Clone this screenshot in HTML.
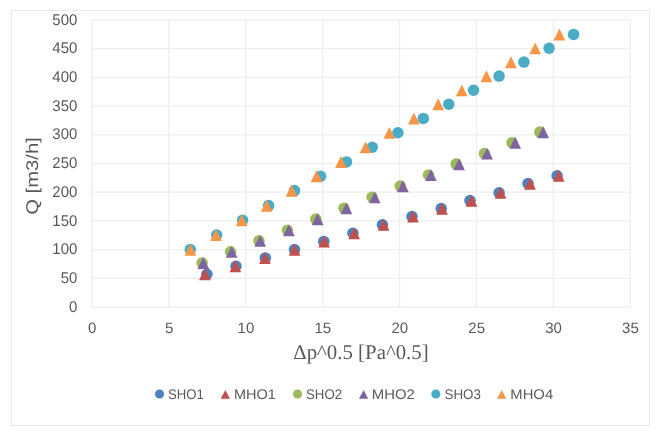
<!DOCTYPE html>
<html><head><meta charset="utf-8"><style>
html,body{margin:0;padding:0;background:#fff;}
body{width:660px;height:435px;overflow:hidden;}
svg{display:block;will-change:transform;text-rendering:geometricPrecision;}
.t{font-family:"Liberation Sans",sans-serif;font-size:15.5px;fill:#595959;}
.t2{font-family:"Liberation Sans",sans-serif;font-size:15px;fill:#595959;}
.lg{font-family:"Liberation Sans",sans-serif;font-size:14px;fill:#595959;}
.xt{font-family:"Liberation Serif",serif;font-size:21px;fill:#595959;}
.yt{font-family:"Liberation Sans",sans-serif;font-size:17px;fill:#595959;}
</style></head><body>
<svg width="660" height="435" viewBox="0 0 660 435">
<rect x="11.5" y="10.5" width="638" height="415" fill="#fff" stroke="#E8E8E8" stroke-width="1"/>
<line x1="91.30" y1="307.10" x2="630.90" y2="307.10" stroke="#EEEEEE" stroke-width="1.3"/>
<line x1="91.30" y1="278.38" x2="630.90" y2="278.38" stroke="#EEEEEE" stroke-width="1.3"/>
<line x1="91.30" y1="249.66" x2="630.90" y2="249.66" stroke="#EEEEEE" stroke-width="1.3"/>
<line x1="91.30" y1="220.94" x2="630.90" y2="220.94" stroke="#EEEEEE" stroke-width="1.3"/>
<line x1="91.30" y1="192.22" x2="630.90" y2="192.22" stroke="#EEEEEE" stroke-width="1.3"/>
<line x1="91.30" y1="163.50" x2="630.90" y2="163.50" stroke="#EEEEEE" stroke-width="1.3"/>
<line x1="91.30" y1="134.78" x2="630.90" y2="134.78" stroke="#EEEEEE" stroke-width="1.3"/>
<line x1="91.30" y1="106.06" x2="630.90" y2="106.06" stroke="#EEEEEE" stroke-width="1.3"/>
<line x1="91.30" y1="77.34" x2="630.90" y2="77.34" stroke="#EEEEEE" stroke-width="1.3"/>
<line x1="91.30" y1="48.62" x2="630.90" y2="48.62" stroke="#EEEEEE" stroke-width="1.3"/>
<line x1="91.30" y1="19.90" x2="630.90" y2="19.90" stroke="#EEEEEE" stroke-width="1.3"/>
<line x1="91.95" y1="19.25" x2="91.95" y2="307.75" stroke="#EEEEEE" stroke-width="1.3"/>
<line x1="168.85" y1="19.25" x2="168.85" y2="307.75" stroke="#EEEEEE" stroke-width="1.3"/>
<line x1="245.75" y1="19.25" x2="245.75" y2="307.75" stroke="#EEEEEE" stroke-width="1.3"/>
<line x1="322.65" y1="19.25" x2="322.65" y2="307.75" stroke="#EEEEEE" stroke-width="1.3"/>
<line x1="399.55" y1="19.25" x2="399.55" y2="307.75" stroke="#EEEEEE" stroke-width="1.3"/>
<line x1="476.45" y1="19.25" x2="476.45" y2="307.75" stroke="#EEEEEE" stroke-width="1.3"/>
<line x1="553.35" y1="19.25" x2="553.35" y2="307.75" stroke="#EEEEEE" stroke-width="1.3"/>
<line x1="630.25" y1="19.25" x2="630.25" y2="307.75" stroke="#EEEEEE" stroke-width="1.3"/>
<text transform="translate(77.3 311.80) scale(0.965 1)" text-anchor="end" class="t">0</text>
<text transform="translate(77.3 283.08) scale(0.965 1)" text-anchor="end" class="t">50</text>
<text transform="translate(77.3 254.36) scale(0.965 1)" text-anchor="end" class="t">100</text>
<text transform="translate(77.3 225.64) scale(0.965 1)" text-anchor="end" class="t">150</text>
<text transform="translate(77.3 196.92) scale(0.965 1)" text-anchor="end" class="t">200</text>
<text transform="translate(77.3 168.20) scale(0.965 1)" text-anchor="end" class="t">250</text>
<text transform="translate(77.3 139.48) scale(0.965 1)" text-anchor="end" class="t">300</text>
<text transform="translate(77.3 110.76) scale(0.965 1)" text-anchor="end" class="t">350</text>
<text transform="translate(77.3 82.04) scale(0.965 1)" text-anchor="end" class="t">400</text>
<text transform="translate(77.3 53.32) scale(0.965 1)" text-anchor="end" class="t">450</text>
<text transform="translate(77.3 24.60) scale(0.965 1)" text-anchor="end" class="t">500</text>
<text transform="translate(92.15 333.3) scale(1 1)" text-anchor="middle" class="t2">0</text>
<text transform="translate(169.05 333.3) scale(1 1)" text-anchor="middle" class="t2">5</text>
<text transform="translate(245.95 333.3) scale(1 1)" text-anchor="middle" class="t2">10</text>
<text transform="translate(322.85 333.3) scale(1 1)" text-anchor="middle" class="t2">15</text>
<text transform="translate(399.75 333.3) scale(1 1)" text-anchor="middle" class="t2">20</text>
<text transform="translate(476.65 333.3) scale(1 1)" text-anchor="middle" class="t2">25</text>
<text transform="translate(553.55 333.3) scale(1 1)" text-anchor="middle" class="t2">30</text>
<text transform="translate(630.45 333.3) scale(1 1)" text-anchor="middle" class="t2">35</text>
<text transform="translate(293.26 359.3) scale(0.9922 1)" class="xt">&#916;p^0.5 [Pa^0.5]</text>
<text transform="translate(37.85 214.69) rotate(-90) scale(1.1874 1)" class="yt">Q [m3/h]</text>
<circle cx="206.90" cy="274.20" r="5.75" fill="#4F81BD"/>
<circle cx="236.00" cy="266.20" r="5.75" fill="#4F81BD"/>
<circle cx="265.30" cy="257.90" r="5.75" fill="#4F81BD"/>
<circle cx="294.50" cy="249.60" r="5.75" fill="#4F81BD"/>
<circle cx="323.80" cy="241.40" r="5.75" fill="#4F81BD"/>
<circle cx="352.90" cy="233.20" r="5.75" fill="#4F81BD"/>
<circle cx="382.40" cy="224.80" r="5.75" fill="#4F81BD"/>
<circle cx="412.00" cy="216.50" r="5.75" fill="#4F81BD"/>
<circle cx="441.20" cy="208.60" r="5.75" fill="#4F81BD"/>
<circle cx="470.00" cy="200.60" r="5.75" fill="#4F81BD"/>
<circle cx="499.10" cy="192.70" r="5.75" fill="#4F81BD"/>
<circle cx="528.00" cy="183.60" r="5.75" fill="#4F81BD"/>
<circle cx="557.10" cy="175.80" r="5.75" fill="#4F81BD"/>
<path d="M204.90 268.35L210.75 280.25L199.05 280.25Z" fill="#C0504D"/>
<path d="M235.40 260.35L241.25 272.25L229.55 272.25Z" fill="#C0504D"/>
<path d="M265.00 252.05L270.85 263.95L259.15 263.95Z" fill="#C0504D"/>
<path d="M294.60 243.75L300.45 255.65L288.75 255.65Z" fill="#C0504D"/>
<path d="M324.10 235.55L329.95 247.45L318.25 247.45Z" fill="#C0504D"/>
<path d="M354.10 227.35L359.95 239.25L348.25 239.25Z" fill="#C0504D"/>
<path d="M383.60 218.95L389.45 230.85L377.75 230.85Z" fill="#C0504D"/>
<path d="M413.00 210.65L418.85 222.55L407.15 222.55Z" fill="#C0504D"/>
<path d="M442.00 202.75L447.85 214.65L436.15 214.65Z" fill="#C0504D"/>
<path d="M471.50 194.75L477.35 206.65L465.65 206.65Z" fill="#C0504D"/>
<path d="M500.60 186.85L506.45 198.75L494.75 198.75Z" fill="#C0504D"/>
<path d="M530.00 177.75L535.85 189.65L524.15 189.65Z" fill="#C0504D"/>
<path d="M558.80 169.95L564.65 181.85L552.95 181.85Z" fill="#C0504D"/>
<circle cx="202.10" cy="262.90" r="5.75" fill="#9BBB59"/>
<circle cx="230.50" cy="251.80" r="5.75" fill="#9BBB59"/>
<circle cx="258.90" cy="240.80" r="5.75" fill="#9BBB59"/>
<circle cx="287.40" cy="230.20" r="5.75" fill="#9BBB59"/>
<circle cx="315.80" cy="219.10" r="5.75" fill="#9BBB59"/>
<circle cx="344.00" cy="208.30" r="5.75" fill="#9BBB59"/>
<circle cx="372.10" cy="197.30" r="5.75" fill="#9BBB59"/>
<circle cx="400.20" cy="186.10" r="5.75" fill="#9BBB59"/>
<circle cx="428.50" cy="175.00" r="5.75" fill="#9BBB59"/>
<circle cx="456.10" cy="164.10" r="5.75" fill="#9BBB59"/>
<circle cx="484.40" cy="153.50" r="5.75" fill="#9BBB59"/>
<circle cx="512.00" cy="142.70" r="5.75" fill="#9BBB59"/>
<circle cx="539.80" cy="132.10" r="5.75" fill="#9BBB59"/>
<path d="M203.30 257.05L209.15 268.95L197.45 268.95Z" fill="#8064A2"/>
<path d="M231.70 245.95L237.55 257.85L225.85 257.85Z" fill="#8064A2"/>
<path d="M260.20 234.95L266.05 246.85L254.35 246.85Z" fill="#8064A2"/>
<path d="M288.90 224.35L294.75 236.25L283.05 236.25Z" fill="#8064A2"/>
<path d="M317.70 213.25L323.55 225.15L311.85 225.15Z" fill="#8064A2"/>
<path d="M346.40 202.45L352.25 214.35L340.55 214.35Z" fill="#8064A2"/>
<path d="M374.80 191.45L380.65 203.35L368.95 203.35Z" fill="#8064A2"/>
<path d="M402.90 180.25L408.75 192.15L397.05 192.15Z" fill="#8064A2"/>
<path d="M430.90 169.15L436.75 181.05L425.05 181.05Z" fill="#8064A2"/>
<path d="M459.10 158.25L464.95 170.15L453.25 170.15Z" fill="#8064A2"/>
<path d="M487.10 147.65L492.95 159.55L481.25 159.55Z" fill="#8064A2"/>
<path d="M515.20 136.85L521.05 148.75L509.35 148.75Z" fill="#8064A2"/>
<path d="M543.20 126.25L549.05 138.15L537.35 138.15Z" fill="#8064A2"/>
<circle cx="190.30" cy="249.60" r="5.75" fill="#4BACC6"/>
<circle cx="216.70" cy="235.00" r="5.75" fill="#4BACC6"/>
<circle cx="242.60" cy="220.30" r="5.75" fill="#4BACC6"/>
<circle cx="268.60" cy="205.60" r="5.75" fill="#4BACC6"/>
<circle cx="294.50" cy="190.60" r="5.75" fill="#4BACC6"/>
<circle cx="320.60" cy="176.20" r="5.75" fill="#4BACC6"/>
<circle cx="346.50" cy="161.90" r="5.75" fill="#4BACC6"/>
<circle cx="372.30" cy="147.30" r="5.75" fill="#4BACC6"/>
<circle cx="397.90" cy="132.80" r="5.75" fill="#4BACC6"/>
<circle cx="423.30" cy="118.40" r="5.75" fill="#4BACC6"/>
<circle cx="448.80" cy="104.20" r="5.75" fill="#4BACC6"/>
<circle cx="473.50" cy="90.30" r="5.75" fill="#4BACC6"/>
<circle cx="499.10" cy="76.10" r="5.75" fill="#4BACC6"/>
<circle cx="523.90" cy="62.10" r="5.75" fill="#4BACC6"/>
<circle cx="549.10" cy="48.30" r="5.75" fill="#4BACC6"/>
<circle cx="573.60" cy="34.40" r="5.75" fill="#4BACC6"/>
<path d="M190.40 243.75L196.25 255.65L184.55 255.65Z" fill="#F79646"/>
<path d="M216.10 229.15L221.95 241.05L210.25 241.05Z" fill="#F79646"/>
<path d="M241.70 214.45L247.55 226.35L235.85 226.35Z" fill="#F79646"/>
<path d="M266.70 199.75L272.55 211.65L260.85 211.65Z" fill="#F79646"/>
<path d="M291.50 184.75L297.35 196.65L285.65 196.65Z" fill="#F79646"/>
<path d="M316.50 170.35L322.35 182.25L310.65 182.25Z" fill="#F79646"/>
<path d="M340.90 156.05L346.75 167.95L335.05 167.95Z" fill="#F79646"/>
<path d="M365.50 141.45L371.35 153.35L359.65 153.35Z" fill="#F79646"/>
<path d="M389.40 126.95L395.25 138.85L383.55 138.85Z" fill="#F79646"/>
<path d="M413.90 112.55L419.75 124.45L408.05 124.45Z" fill="#F79646"/>
<path d="M438.20 98.35L444.05 110.25L432.35 110.25Z" fill="#F79646"/>
<path d="M461.80 84.45L467.65 96.35L455.95 96.35Z" fill="#F79646"/>
<path d="M486.40 70.25L492.25 82.15L480.55 82.15Z" fill="#F79646"/>
<path d="M510.90 56.25L516.75 68.15L505.05 68.15Z" fill="#F79646"/>
<path d="M535.20 42.45L541.05 54.35L529.35 54.35Z" fill="#F79646"/>
<path d="M559.40 28.55L565.25 40.45L553.55 40.45Z" fill="#F79646"/>
<circle cx="159.55" cy="394.05" r="4.55" fill="#4F81BD"/>
<text transform="translate(168.01 398.8) scale(0.9383 1)" class="lg">SHO1</text>
<path d="M225.35 390.1L230.00 398.8L220.70 398.8Z" fill="#C0504D"/>
<text transform="translate(234.04 398.8) scale(1.0348 1)" class="lg">MHO1</text>
<circle cx="297.55" cy="394.05" r="4.55" fill="#9BBB59"/>
<text transform="translate(306.01 398.8) scale(0.9464 1)" class="lg">SHO2</text>
<path d="M363.60 390.1L368.25 398.8L358.95 398.8Z" fill="#8064A2"/>
<text transform="translate(371.80 398.8) scale(1.0641 1)" class="lg">MHO2</text>
<circle cx="435.85" cy="394.05" r="4.55" fill="#4BACC6"/>
<text transform="translate(444.50 398.8) scale(0.9546 1)" class="lg">SHO3</text>
<path d="M501.70 390.1L506.35 398.8L497.05 398.8Z" fill="#F79646"/>
<text transform="translate(510.31 398.8) scale(1.0590 1)" class="lg">MHO4</text>
</svg>
</body></html>
